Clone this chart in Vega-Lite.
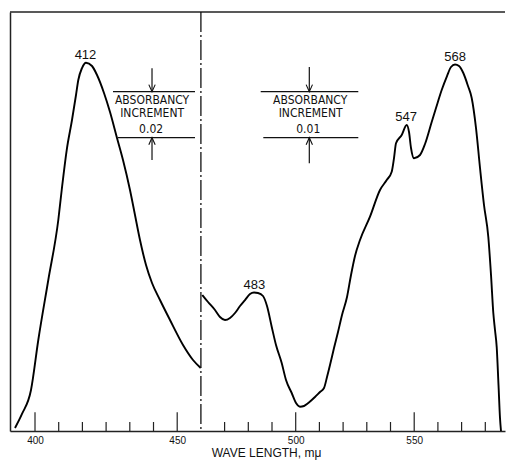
{
  "$schema": "https://vega.github.io/schema/vega-lite/v6.json",
  "width": 495,
  "height": 419,
  "autosize": {"type": "none"},
  "padding": {"left": 10, "top": 12, "right": 2, "bottom": 29},
  "background": "white",
  "config": {"view": {"stroke": null}, "font": "Liberation Sans"},
  "datasets": {
    "spectrum": [
      {"seg": "A", "wl": 381.56, "u": 0.72},
      {"seg": "A", "wl": 384.51, "u": 4.06},
      {"seg": "A", "wl": 388.31, "u": 9.79},
      {"seg": "A", "wl": 391.39, "u": 21.72},
      {"seg": "A", "wl": 395.61, "u": 36.04},
      {"seg": "A", "wl": 399.83, "u": 50.36},
      {"seg": "A", "wl": 401.27, "u": 57.52},
      {"seg": "A", "wl": 403.38, "u": 67.06},
      {"seg": "A", "wl": 405.61, "u": 74.22},
      {"seg": "A", "wl": 407.3, "u": 80.19},
      {"seg": "A", "wl": 408.27, "u": 83.77},
      {"seg": "A", "wl": 409.83, "u": 86.63},
      {"seg": "A", "wl": 411.52, "u": 87.9},
      {"seg": "A", "wl": 414.05, "u": 87.11},
      {"seg": "A", "wl": 416.16, "u": 84.96},
      {"seg": "A", "wl": 419.11, "u": 80.67},
      {"seg": "A", "wl": 421.65, "u": 76.13},
      {"seg": "A", "wl": 424.6, "u": 69.93},
      {"seg": "A", "wl": 427.13, "u": 64.68},
      {"seg": "A", "wl": 430.08, "u": 57.52},
      {"seg": "A", "wl": 432.19, "u": 51.55},
      {"seg": "A", "wl": 434.3, "u": 45.58},
      {"seg": "A", "wl": 436.84, "u": 39.62},
      {"seg": "A", "wl": 439.37, "u": 35.32},
      {"seg": "A", "wl": 442.74, "u": 31.26},
      {"seg": "A", "wl": 446.96, "u": 26.49},
      {"seg": "A", "wl": 452.45, "u": 20.53},
      {"seg": "A", "wl": 456.67, "u": 16.95},
      {"seg": "A", "wl": 459.92, "u": 15.04},
      {"seg": "B", "wl": 460.59, "u": 32.46},
      {"seg": "B", "wl": 463.0, "u": 30.79},
      {"seg": "B", "wl": 465.95, "u": 28.88},
      {"seg": "B", "wl": 468.06, "u": 27.21},
      {"seg": "B", "wl": 470.17, "u": 26.49},
      {"seg": "B", "wl": 472.28, "u": 26.97},
      {"seg": "B", "wl": 474.39, "u": 28.16},
      {"seg": "B", "wl": 476.5, "u": 29.83},
      {"seg": "B", "wl": 478.61, "u": 31.26},
      {"seg": "B", "wl": 480.72, "u": 32.7},
      {"seg": "B", "wl": 482.41, "u": 33.05},
      {"seg": "B", "wl": 484.09, "u": 32.94},
      {"seg": "B", "wl": 486.2, "u": 32.22},
      {"seg": "B", "wl": 487.89, "u": 29.83},
      {"seg": "B", "wl": 489.87, "u": 24.89},
      {"seg": "B", "wl": 491.69, "u": 20.53},
      {"seg": "B", "wl": 494.09, "u": 16.23},
      {"seg": "B", "wl": 495.91, "u": 12.17},
      {"seg": "B", "wl": 498.31, "u": 9.07},
      {"seg": "B", "wl": 500.13, "u": 6.68},
      {"seg": "B", "wl": 501.81, "u": 5.8},
      {"seg": "B", "wl": 503.5, "u": 5.97},
      {"seg": "B", "wl": 505.32, "u": 6.68},
      {"seg": "B", "wl": 508.14, "u": 8.11},
      {"seg": "B", "wl": 510.25, "u": 9.31},
      {"seg": "B", "wl": 511.94, "u": 10.26},
      {"seg": "B", "wl": 513.21, "u": 12.89},
      {"seg": "B", "wl": 514.47, "u": 15.75},
      {"seg": "B", "wl": 516.16, "u": 19.81},
      {"seg": "B", "wl": 517.85, "u": 23.63},
      {"seg": "B", "wl": 519.54, "u": 27.68},
      {"seg": "B", "wl": 521.65, "u": 31.98},
      {"seg": "B", "wl": 523.34, "u": 37.23},
      {"seg": "B", "wl": 525.02, "u": 41.77},
      {"seg": "B", "wl": 527.13, "u": 45.58},
      {"seg": "B", "wl": 531.35, "u": 51.15},
      {"seg": "B", "wl": 535.57, "u": 57.52},
      {"seg": "B", "wl": 538.4, "u": 59.9},
      {"seg": "B", "wl": 540.51, "u": 61.89},
      {"seg": "B", "wl": 541.48, "u": 65.15},
      {"seg": "B", "wl": 542.32, "u": 68.66},
      {"seg": "B", "wl": 544.73, "u": 70.64},
      {"seg": "B", "wl": 546.84, "u": 73.03},
      {"seg": "B", "wl": 547.81, "u": 71.36},
      {"seg": "B", "wl": 548.65, "u": 67.54},
      {"seg": "B", "wl": 549.92, "u": 65.08},
      {"seg": "B", "wl": 552.45, "u": 65.87},
      {"seg": "B", "wl": 554.56, "u": 68.5},
      {"seg": "B", "wl": 557.38, "u": 73.75},
      {"seg": "B", "wl": 559.2, "u": 77.09},
      {"seg": "B", "wl": 561.6, "u": 81.38},
      {"seg": "B", "wl": 563.84, "u": 84.72},
      {"seg": "B", "wl": 565.53, "u": 86.87},
      {"seg": "B", "wl": 567.22, "u": 87.47},
      {"seg": "B", "wl": 568.9, "u": 87.11},
      {"seg": "B", "wl": 570.72, "u": 85.44},
      {"seg": "B", "wl": 572.7, "u": 82.34},
      {"seg": "B", "wl": 574.26, "u": 79.47},
      {"seg": "B", "wl": 576.08, "u": 72.31},
      {"seg": "B", "wl": 577.77, "u": 62.77},
      {"seg": "B", "wl": 579.45, "u": 53.94},
      {"seg": "B", "wl": 581.27, "u": 46.3},
      {"seg": "B", "wl": 582.41, "u": 37.23},
      {"seg": "B", "wl": 583.38, "u": 28.16},
      {"seg": "B", "wl": 584.09, "u": 24.11},
      {"seg": "B", "wl": 584.81, "u": 20.05},
      {"seg": "B", "wl": 585.57, "u": 10.98},
      {"seg": "B", "wl": 586.2, "u": 3.1},
      {"seg": "B", "wl": 586.62, "u": 0}
    ],
    "peaks": [
      {"wl": 411.3, "u": 87.9, "label": "412"},
      {"wl": 482.6, "u": 33.05, "label": "483"},
      {"wl": 546.6, "u": 73.03, "label": "547"},
      {"wl": 567.3, "u": 87.47, "label": "568"}
    ],
    "ticks": [
      {"wl": 390, "kind": "major"}, {"wl": 400, "kind": "minor"}, {"wl": 410, "kind": "minor"},
      {"wl": 420, "kind": "minor"}, {"wl": 430, "kind": "minor"}, {"wl": 440, "kind": "minor"},
      {"wl": 450, "kind": "major"}, {"wl": 470, "kind": "minor"}, {"wl": 480, "kind": "minor"},
      {"wl": 490, "kind": "minor"}, {"wl": 500, "kind": "major"}, {"wl": 510, "kind": "minor"},
      {"wl": 520, "kind": "minor"}, {"wl": 530, "kind": "minor"}, {"wl": 540, "kind": "minor"},
      {"wl": 550, "kind": "major"}, {"wl": 560, "kind": "minor"}, {"wl": 570, "kind": "minor"},
      {"wl": 580, "kind": "minor"}
    ],
    "bracketLines": [
      {"wl": 422.91, "wl2": 457.51, "u": 80.98, "u2": 80.98},
      {"wl": 425.02, "wl2": 457.51, "u": 70.0, "u2": 70.0},
      {"wl": 439.37, "wl2": 439.37, "u": 86.56, "u2": 80.98},
      {"wl": 439.37, "wl2": 439.37, "u": 70.0, "u2": 64.68},
      {"wl": 485.23, "wl2": 526.41, "u": 80.98, "u2": 80.98},
      {"wl": 486.33, "wl2": 526.41, "u": 70.0, "u2": 70.0},
      {"wl": 505.74, "wl2": 505.74, "u": 86.9, "u2": 80.98},
      {"wl": 505.74, "wl2": 505.74, "u": 70.0, "u2": 63.9}
    ],
    "arrowHeads": [
      {"wl": 439.37, "u": 80.98, "dir": "down"},
      {"wl": 439.37, "u": 70.0, "dir": "up"},
      {"wl": 505.74, "u": 80.98, "dir": "down"},
      {"wl": 505.74, "u": 70.0, "dir": "up"}
    ],
    "bracketText": [
      {"wl": 439.4, "u": 79.0, "label": "ABSORBANCY"},
      {"wl": 439.4, "u": 75.94, "label": "INCREMENT"},
      {"wl": 439.0, "u": 71.96, "label": "0.02"},
      {"wl": 506.1, "u": 79.0, "label": "ABSORBANCY"},
      {"wl": 506.3, "u": 75.94, "label": "INCREMENT"},
      {"wl": 505.3, "u": 71.96, "label": "0.01"}
    ],
    "frame": [{"u": 100}],
    "divider": [{"wl": 460}]
  },
  "layer": [
    {
      "data": {"name": "spectrum"},
      "mark": {"type": "line", "color": "#000", "strokeWidth": 1.9, "interpolate": "monotone"},
      "encoding": {
        "x": {
          "field": "wl", "type": "quantitative",
          "scale": {"domain": [379.45, 588.31], "nice": false, "zero": false},
          "axis": {
            "values": [390, 450, 500, 550],
            "labelExpr": "datum.value == 390 ? '400' : datum.label",
            "ticks": false, "grid": false,
            "domainColor": "#222", "domainWidth": 1.5,
            "labelFontSize": 10, "labelPadding": 4, "labelColor": "#111",
            "title": "WAVE LENGTH, mμ", "titleFontSize": 12, "titleFontWeight": "normal",
            "titleColor": "#111", "titlePadding": 2, "titleX": 256
          }
        },
        "y": {
          "field": "u", "type": "quantitative",
          "scale": {"domain": [0, 100], "nice": false},
          "axis": {"labels": false, "ticks": false, "grid": false, "title": null, "domainColor": "#222", "domainWidth": 1.5}
        },
        "detail": {"field": "seg", "type": "nominal"}
      }
    },
    {
      "data": {"name": "frame"},
      "mark": {"type": "rule", "color": "#222", "strokeWidth": 1.5},
      "encoding": {"y": {"field": "u", "type": "quantitative"}}
    },
    {
      "data": {"name": "divider"},
      "mark": {"type": "rule", "color": "#111", "strokeWidth": 1.3, "strokeDash": [20, 3, 2, 3]},
      "encoding": {"x": {"field": "wl", "type": "quantitative"}}
    },
    {
      "data": {"name": "ticks"},
      "transform": [{"filter": "datum.kind == 'major'"}],
      "mark": {"type": "rule", "color": "#222", "strokeWidth": 1.2},
      "encoding": {
        "x": {"field": "wl", "type": "quantitative"},
        "y": {"datum": 0, "type": "quantitative"},
        "y2": {"datum": 4.5}
      }
    },
    {
      "data": {"name": "ticks"},
      "transform": [{"filter": "datum.kind == 'minor'"}],
      "mark": {"type": "rule", "color": "#222", "strokeWidth": 1.2},
      "encoding": {
        "x": {"field": "wl", "type": "quantitative"},
        "y": {"datum": 0, "type": "quantitative"},
        "y2": {"datum": 2.15}
      }
    },
    {
      "data": {"name": "peaks"},
      "mark": {"type": "text", "fontSize": 13, "baseline": "alphabetic", "dy": -4, "color": "#111"},
      "encoding": {
        "x": {"field": "wl", "type": "quantitative"},
        "y": {"field": "u", "type": "quantitative"},
        "text": {"field": "label"}
      }
    },
    {
      "data": {"name": "bracketLines"},
      "mark": {"type": "rule", "color": "#111", "strokeWidth": 1.2},
      "encoding": {
        "x": {"field": "wl", "type": "quantitative"},
        "x2": {"field": "wl2"},
        "y": {"field": "u", "type": "quantitative"},
        "y2": {"field": "u2"}
      }
    },
    {
      "data": {"name": "arrowHeads"},
      "mark": {"type": "point", "filled": false, "color": "#111", "strokeWidth": 1.1, "size": 200, "opacity": 1},
      "encoding": {
        "x": {"field": "wl", "type": "quantitative"},
        "y": {"field": "u", "type": "quantitative"},
        "shape": {
          "field": "dir", "type": "nominal", "legend": null,
          "scale": {"domain": ["down", "up"], "range": ["M-0.45,-1L0,0L0.45,-1", "M-0.45,1L0,0L0.45,1"]}
        }
      }
    },
    {
      "data": {"name": "bracketText"},
      "mark": {"type": "text", "font": "Liberation Sans Narrow, DejaVu Sans Condensed, Liberation Sans", "fontSize": 12, "baseline": "middle", "color": "#111"},
      "encoding": {
        "x": {"field": "wl", "type": "quantitative"},
        "y": {"field": "u", "type": "quantitative"},
        "text": {"field": "label"}
      }
    }
  ]
}
